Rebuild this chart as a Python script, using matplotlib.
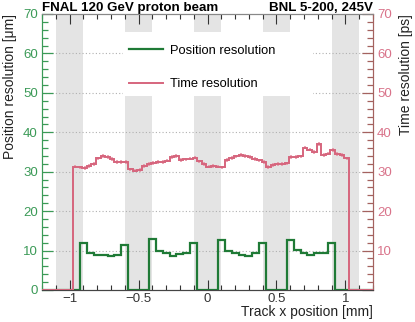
import numpy as np
import matplotlib
matplotlib.use("Agg")
import matplotlib.pyplot as plt
from matplotlib.patches import Rectangle
from matplotlib.lines import Line2D
from matplotlib.ticker import MultipleLocator, FuncFormatter

plt.rcParams['font.family'] = ['Liberation Sans', 'DejaVu Sans']

# ---------------- data ----------------
# Time resolution [ps]: 60 bins from -0.975 to 1.025 mm
time_lo, time_hi, time_nbins = -0.975, 1.025, 60
time_values = [
    31.3, 31.1, 31.0, 31.5, 32.0, 33.4, 34.0, 33.7, 33.2, 32.5,
    32.5, 32.5, 30.6, 30.3, 30.4, 31.5, 31.9, 32.2, 32.4, 32.4,
    32.8, 33.8, 34.0, 33.0, 33.1, 33.3, 33.6, 32.6, 31.9, 31.3,
    31.5, 31.3, 31.1, 33.0, 33.5, 33.9, 34.2, 34.0, 33.7, 33.2,
    32.9, 32.5, 31.2, 31.7, 32.0, 32.0, 32.1, 33.8, 33.8, 33.9,
    36.1, 35.6, 35.0, 37.0, 34.3, 34.6, 35.5, 34.5, 34.2, 33.4,
]
time_err = 0.45

# Position resolution [um]: 49 bins from -1.225 to 1.225 mm
pos_lo, pos_hi, pos_nbins = -1.225, 1.225, 49
pos_values = [
    0, 0, 0, 0, 0, 0,
    11.85, 9.5, 8.9, 8.9, 8.5, 8.9, 11.4,
    0, 0, 0,
    12.9, 10.0, 9.3, 8.5, 9.05, 9.3, 12.0,
    0, 0, 0,
    12.7, 10.0, 9.3, 8.9, 8.5, 9.5, 12.0,
    0, 0, 0,
    12.7, 10.15, 9.3, 8.9, 9.3, 9.5, 11.85,
    0, 0, 0, 0, 0, 0,
]

strip_gap_centers = [-1.0, -0.5, 0.0, 0.5, 1.0]
strip_gap_halfwidth = 0.1

x_ticks = [-1, -0.5, 0, 0.5, 1]
y_ticks = [0, 10, 20, 30, 40, 50, 60, 70]

# ---------------- style ----------------
GREEN = '#1f7a36'
GREEN_TXT = '#3b9a57'
RED = '#d6657d'
RED_ERR = '#e48c9e'
RED_TXT = '#d9738a'
RED_TICK = '#a4625f'
BAND = '#e4e4e4'
FS_TICK = 9.5
FS_LAB = 10
FS_TITLE = 9.6
FS_LEG = 9.3

fig = plt.figure(figsize=(4.15, 3.22), dpi=100)
ax = fig.add_axes([42/415, 32/322, 331/415, 276/322])
ax2 = ax.twinx()
ax.set_zorder(1)
ax2.set_zorder(2)
ax2.patch.set_visible(False)

ax.set_xlim(-1.2, 1.2)
ax.set_ylim(0, 70)
ax2.set_ylim(0, 70)

# gaps between strips
for c in strip_gap_centers:
    ax.axvspan(c - strip_gap_halfwidth, c + strip_gap_halfwidth,
               color=BAND, lw=0, zorder=0)

# horizontal grid
for yv in y_ticks[1:-1]:
    ax.axhline(yv, color='#b0b0b0', lw=0.8, ls=(0, (1, 2)), zorder=0.5)

# white legend box
ax.add_patch(Rectangle((0.245, 0.703), 0.574, 0.232, transform=ax.transAxes,
                       facecolor='white', edgecolor='none', zorder=0.8))

# position resolution
pos_edges = np.linspace(pos_lo, pos_hi, pos_nbins + 1)
ax.stairs(pos_values, pos_edges, color=GREEN, lw=1.6, zorder=3, baseline=0)

# time resolution
t_edges = np.linspace(time_lo, time_hi, time_nbins + 1)
t_vals = np.r_[0.0, time_values, 0.0]
t_edges_full = np.r_[-1.3, t_edges, 1.3]
t_centers = 0.5 * (t_edges[:-1] + t_edges[1:])
ax2.errorbar(t_centers, time_values, yerr=time_err, fmt='none',
             ecolor=RED_ERR, elinewidth=1.1, zorder=2)
ax2.stairs(t_vals, t_edges_full, color=RED, lw=1.4, zorder=3, baseline=0)

# ticks
fmt = FuncFormatter(lambda v, p: f"{v:g}".replace('-', '\u2212'))
ax.set_xticks(x_ticks)
ax.xaxis.set_major_formatter(fmt)
ax.xaxis.set_minor_locator(MultipleLocator(0.1))
ax.set_yticks(y_ticks)
ax.yaxis.set_minor_locator(MultipleLocator(2))
ax2.set_yticks(y_ticks)
ax2.yaxis.set_minor_locator(MultipleLocator(2))
ax2.set_yticklabels([''] + [str(v) for v in y_ticks[1:]])

ax.tick_params(axis='x', which='both', direction='in', top=True,
               labelsize=FS_TICK, colors='#333333', pad=2)
ax.tick_params(axis='x', which='major', length=7, width=0.8)
ax.tick_params(axis='x', which='minor', length=3.5, width=0.8)
ax.tick_params(axis='y', which='both', direction='in', colors=GREEN_TXT,
               labelsize=FS_TICK, left=True, right=False, pad=3)
ax.tick_params(axis='y', which='major', length=8, width=0.9)
ax.tick_params(axis='y', which='minor', length=4, width=0.9)
ax2.tick_params(axis='y', which='both', direction='in', colors=RED_TICK,
                labelcolor=RED_TXT, labelsize=FS_TICK, left=False, right=True, pad=3)
ax2.tick_params(axis='y', which='major', length=8, width=0.9)
ax2.tick_params(axis='y', which='minor', length=4, width=0.9)

for a in (ax, ax2):
    a.spines['left'].set_color(GREEN_TXT)
    a.spines['right'].set_color(RED_TICK)
    a.spines['bottom'].set_color('#444444')
    a.spines['top'].set_color('#888888')
    for s in a.spines.values():
        s.set_linewidth(0.8)

ax.set_xlabel('Track x position [mm]', loc='right', fontsize=FS_LAB,
              color='#222222', labelpad=0)
ax.set_ylabel('Position resolution [μm]', loc='top', fontsize=FS_LAB,
              color='#222222', labelpad=4)
ax2.set_ylabel('Time resolution [ps]', loc='top', fontsize=FS_LAB,
               color='#222222', labelpad=5)

ax.set_title('FNAL 120 GeV proton beam', loc='left', fontsize=FS_TITLE,
             fontweight='bold', pad=2)
ax.set_title('BNL 5-200, 245V', loc='right', fontsize=FS_TITLE,
             fontweight='bold', pad=2)

handles = [Line2D([], [], color=GREEN, lw=1.6), Line2D([], [], color=RED, lw=1.4)]
leg = ax2.legend(handles, ['Position resolution', 'Time resolution'],
                 loc='upper left', bbox_to_anchor=(0.224, 0.935),
                 frameon=False, fontsize=FS_LEG, handlelength=2.6,
                 handletextpad=0.55, labelspacing=1.64, borderpad=1.0,
                 borderaxespad=0)

fig.savefig('out.png', dpi=100)
